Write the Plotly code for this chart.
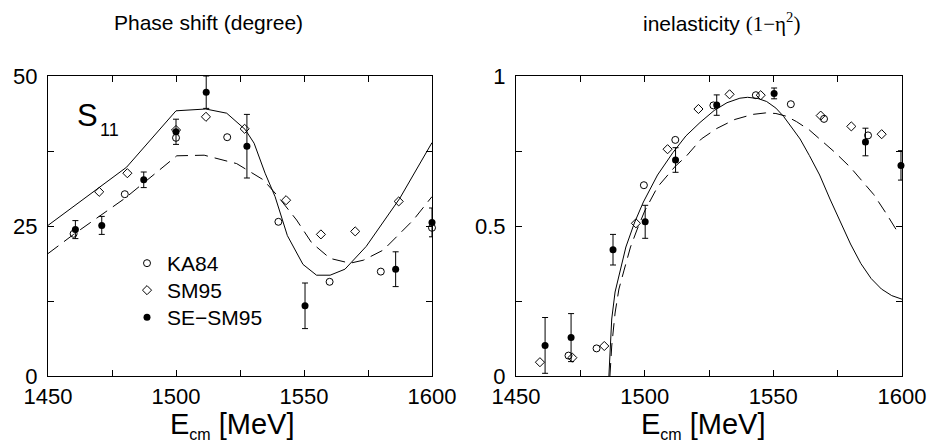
import plotly.graph_objects as go

# ---------------- data ----------------
# Left panel: phase shift (degree)
ps_ka84_x = [1460, 1480, 1500, 1520, 1540, 1560, 1580, 1600]
ps_ka84_y = [23.7, 30.3, 39.7, 39.8, 25.7, 15.7, 17.4, 24.7]
ps_sm95_x = [1470, 1481, 1500, 1511.7, 1526.8, 1543, 1556.6, 1570, 1587]
ps_sm95_y = [30.7, 33.8, 41.0, 43.2, 41.2, 29.3, 23.6, 24.1, 29.1]
ps_se_x = [1460.7, 1471, 1487.4, 1500, 1511.8, 1527.7, 1550.4, 1585.8, 1600]
ps_se_y = [24.4, 25.1, 32.7, 40.7, 47.3, 38.3, 11.7, 17.8, 25.6]
ps_se_err = [1.5, 1.5, 1.3, 2.1, 2.7, 5.3, 3.8, 2.9, 2.4]
ps_solid_x = [1450, 1480.7, 1500, 1511.6, 1519.8, 1527, 1530.5, 1534.8, 1538.7,
              1543.5, 1549.6, 1554.9, 1560.2, 1566, 1574.3, 1587.4, 1600]
ps_solid_y = [25.1, 34.8, 44.2, 44.5, 43.8, 41.1, 38.8, 33.8, 29.9,
              23.4, 18.6, 16.8, 16.8, 17.8, 21.6, 29.6, 38.9]
ps_dash_x = [1450, 1460, 1480, 1500.3, 1511, 1523.7, 1534.1, 1539.3, 1547.1,
             1553, 1560.2, 1568, 1573.2, 1581, 1592.7, 1600]
ps_dash_y = [20.4, 23.6, 29.6, 36.7, 36.8, 35.4, 32.7, 30.2, 26.0,
             22.2, 19.6, 18.8, 19.3, 21.0, 26.0, 29.9]

# Right panel: inelasticity (1 - eta^2)
in_ka84_x = [1470.4, 1481.3, 1499.7, 1511.9, 1526.7, 1543.2, 1556.8, 1569.7, 1586.8]
in_ka84_y = [0.068, 0.092, 0.636, 0.787, 0.902, 0.936, 0.906, 0.857, 0.802]
in_sm95_x = [1459.3, 1471.9, 1484.3, 1496.6, 1508.9, 1520.9, 1533, 1545.1, 1568.4, 1580.3, 1592.1]
in_sm95_y = [0.046, 0.061, 0.100, 0.509, 0.756, 0.890, 0.939, 0.936, 0.868, 0.832, 0.806]
in_se_x = [1461.3, 1471.4, 1487.7, 1500.2, 1512, 1528, 1550.3, 1585.8, 1599.6]
in_se_y = [0.102, 0.128, 0.421, 0.514, 0.720, 0.903, 0.942, 0.780, 0.702]
in_se_err = [0.093, 0.080, 0.051, 0.055, 0.041, 0.034, 0.018, 0.046, 0.049]
in_solid_x = [1486.1, 1486.6, 1487.2, 1488.5, 1490.4, 1492.7, 1496, 1499.5, 1505, 1511,
              1516, 1521.5, 1527, 1532, 1537, 1540, 1544, 1547.4, 1551, 1554, 1557,
              1560.4, 1564, 1568, 1572, 1576, 1580, 1584, 1588, 1592, 1596, 1600]
in_solid_y = [0.0, 0.10, 0.19, 0.28, 0.35, 0.43, 0.51, 0.58, 0.67, 0.745,
              0.80, 0.845, 0.885, 0.911, 0.926, 0.929, 0.925, 0.915, 0.893, 0.865, 0.83,
              0.79, 0.735, 0.67, 0.59, 0.515, 0.44, 0.375, 0.325, 0.29, 0.268, 0.256]
in_dash_x = [1486.5, 1487.2, 1488.5, 1490, 1492, 1494.5, 1497, 1500, 1505, 1512, 1516,
             1522, 1528, 1535, 1542, 1547, 1551, 1555, 1559, 1564, 1568, 1574, 1580,
             1585, 1589, 1594, 1598.6]
in_dash_y = [0.0, 0.10, 0.21, 0.29, 0.353, 0.43, 0.487, 0.55, 0.63, 0.70, 0.731,
             0.79, 0.825, 0.855, 0.872, 0.877, 0.875, 0.866, 0.848, 0.82, 0.79, 0.745, 0.695,
             0.645, 0.605, 0.54, 0.476]

legend_names = ["KA84", "SM95", "SE\u2212SM95"]
x_tickvals = [1450, 1475, 1500, 1525, 1550, 1575, 1600]
x_ticktext = ["1450", "", "1500", "", "1550", "", "1600"]
ps_tickvals = [0, 12.5, 25, 37.5, 50]
ps_ticktext = ["0", "", "25", "", "50"]
in_tickvals = [0, 0.25, 0.5, 0.75, 1]
in_ticktext = ["0", "", "0.5", "", "1"]

# ---------------- figure ----------------
W, H = 930, 446
FONT = "Liberation Sans, Arial, Helvetica, sans-serif"


def px_x(p):
    return p / W


def px_y(p):
    return (H - p) / H


fig = go.Figure()

circle_m = dict(symbol="circle-open", size=7, color="black", line=dict(width=1, color="black"))
diamond_m = dict(symbol="diamond-open", size=7, color="black", line=dict(width=1, color="black"))
filled_m = dict(symbol="circle", size=7, color="black")

for (xa, ya, sx, sy, dx, dy, kx, ky, mx, my, ex, ey, ee, show) in [
    ("x", "y", ps_solid_x, ps_solid_y, ps_dash_x, ps_dash_y, ps_ka84_x, ps_ka84_y,
     ps_sm95_x, ps_sm95_y, ps_se_x, ps_se_y, ps_se_err, True),
    ("x2", "y2", in_solid_x, in_solid_y, in_dash_x, in_dash_y, in_ka84_x, in_ka84_y,
     in_sm95_x, in_sm95_y, in_se_x, in_se_y, in_se_err, False),
]:
    fig.add_trace(go.Scatter(x=sx, y=sy, mode="lines", xaxis=xa, yaxis=ya, showlegend=False,
                             line=dict(color="black", width=1)))
    fig.add_trace(go.Scatter(x=dx, y=dy, mode="lines", xaxis=xa, yaxis=ya, showlegend=False,
                             line=dict(color="black", width=1, dash="13px,7px")))
    fig.add_trace(go.Scatter(x=kx, y=ky, mode="markers", xaxis=xa, yaxis=ya, name=legend_names[0],
                             showlegend=show, legend="legend", marker=circle_m, cliponaxis=False))
    fig.add_trace(go.Scatter(x=mx, y=my, mode="markers", xaxis=xa, yaxis=ya, name=legend_names[1],
                             showlegend=show, legend="legend2", marker=diamond_m, cliponaxis=False))
    fig.add_trace(go.Scatter(x=ex, y=ey, mode="markers", xaxis=xa, yaxis=ya, name=legend_names[2],
                             showlegend=show, legend="legend3", marker=filled_m, cliponaxis=False,
                             error_y=dict(type="data", array=ee, visible=True, color="black",
                                          thickness=1, width=3)))

axis_common = dict(showline=True, linecolor="black", linewidth=1, mirror="ticks",
                   ticks="inside", ticklen=6, tickcolor="black", tickwidth=1,
                   showgrid=False, zeroline=False, automargin=False,
                   tickfont=dict(family=FONT, size=22, color="black"))


def leg(top_px):
    return dict(x=px_x(127), y=px_y(top_px), xanchor="left", yanchor="top",
                bgcolor="rgba(0,0,0,0)", borderwidth=0,
                font=dict(family=FONT, size=21, color="black"), itemwidth=30)


fig.update_layout(
    width=W, height=H,
    margin=dict(l=0, r=0, t=0, b=0, autoexpand=False),
    paper_bgcolor="white", plot_bgcolor="white",
    font=dict(family=FONT, color="black"),
    xaxis=dict(domain=[px_x(48), px_x(432)], range=[1450, 1600], anchor="y",
               tickmode="array", tickvals=x_tickvals, ticktext=x_ticktext,
               ticklabelstandoff=1, **axis_common),
    yaxis=dict(domain=[px_y(376), px_y(76)], range=[0, 50], anchor="x",
               tickmode="array", tickvals=ps_tickvals, ticktext=ps_ticktext,
               ticklabelstandoff=5, **axis_common),
    xaxis2=dict(domain=[px_x(516), px_x(902)], range=[1450, 1600], anchor="y2",
                tickmode="array", tickvals=x_tickvals, ticktext=x_ticktext,
                ticklabelstandoff=1, **axis_common),
    yaxis2=dict(domain=[px_y(376), px_y(76)], range=[0, 1], anchor="x2",
                tickmode="array", tickvals=in_tickvals, ticktext=in_ticktext,
                ticklabelstandoff=5, **axis_common),
    showlegend=True,
    legend=leg(243),
    legend2=leg(270),
    legend3=leg(297),
)

annots = [
    dict(text="Phase shift (degree)", x=px_x(208), y=px_y(22), size=21),
    dict(text="inelasticity <span style='font-family:Liberation Serif'>(1\u2212\u03b7<sup>2</sup>)</span>",
         x=px_x(721), y=px_y(22), size=21),
    dict(text="E<sub><span style='font-size:16px'>cm</span></sub> [MeV]", x=px_x(232), y=px_y(425), size=29),
    dict(text="E<sub><span style='font-size:16px'>cm</span></sub> [MeV]", x=px_x(703), y=px_y(425), size=29),
]
for a in annots:
    fig.add_annotation(xref="paper", yref="paper", showarrow=False, xanchor="center",
                       yanchor="middle", x=a["x"], y=a["y"], text=a["text"],
                       font=dict(family=FONT, color="black", size=a["size"]))
fig.add_annotation(xref="paper", yref="paper", showarrow=False, xanchor="left", yanchor="middle",
                   x=px_x(75), y=px_y(116), text="S",
                   font=dict(family=FONT, color="black", size=31))
fig.add_annotation(xref="paper", yref="paper", showarrow=False, xanchor="left", yanchor="middle",
                   x=px_x(98), y=px_y(130), text="11",
                   font=dict(family=FONT, color="black", size=18))

fig.write_html("out.html")
